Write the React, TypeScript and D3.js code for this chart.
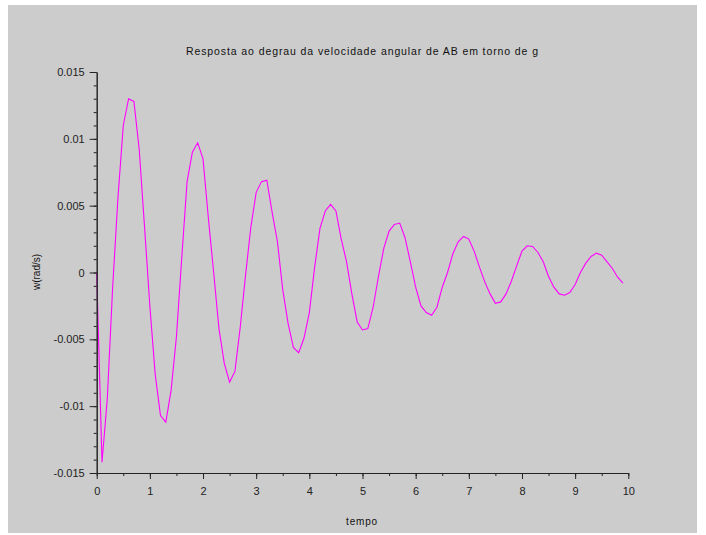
import { axisBottom, axisLeft, line, scaleLinear, select, range } from "d3";
import { useEffect, useRef } from "react";

// tempo (s)
const tempo = [
  0, 0.1, 0.2, 0.3, 0.4, 0.5, 0.6, 0.7, 0.8, 0.9,
  1.0, 1.1, 1.2, 1.3, 1.4, 1.5, 1.6, 1.7, 1.8, 1.9,
  2.0, 2.1, 2.2, 2.3, 2.4, 2.5, 2.6, 2.7, 2.8, 2.9,
  3.0, 3.1, 3.2, 3.3, 3.4, 3.5, 3.6, 3.7, 3.8, 3.9,
  4.0, 4.1, 4.2, 4.3, 4.4, 4.5, 4.6, 4.7, 4.8, 4.9,
  5.0, 5.1, 5.2, 5.3, 5.4, 5.5, 5.6, 5.7, 5.8, 5.9,
  6.0, 6.1, 6.2, 6.3, 6.4, 6.5, 6.6, 6.7, 6.8, 6.9,
  7.0, 7.1, 7.2, 7.3, 7.4, 7.5, 7.6, 7.7, 7.8, 7.9,
  8.0, 8.1, 8.2, 8.3, 8.4, 8.5, 8.6, 8.7, 8.8, 8.9,
  9.0, 9.1, 9.2, 9.3, 9.4, 9.5, 9.6, 9.7, 9.8, 9.9,
];

// w (rad/s)
const w = [
  0, -0.0142, -0.0094, -0.0011, 0.0056, 0.011, 0.013, 0.0128, 0.0092, 0.0034,
  -0.0025, -0.0076, -0.0107, -0.0112, -0.0088, -0.0048, 0.0011, 0.0068, 0.009, 0.0097,
  0.0085, 0.0041, 0.0, -0.0042, -0.0068, -0.0082, -0.0074, -0.0041, -0.0002, 0.0034,
  0.006, 0.0068, 0.0069, 0.0045, 0.0023, -0.0013, -0.0038, -0.0056, -0.006, -0.0049,
  -0.003, 0.0004, 0.0033, 0.0046, 0.0051, 0.0046, 0.0025, 0.0008, -0.0016, -0.0037,
  -0.0043, -0.0042, -0.0026, -0.0003, 0.0018, 0.0031, 0.0036, 0.0037, 0.0026, 0.0008,
  -0.0011, -0.0025, -0.003, -0.0032, -0.0026, -0.0011, 0.0, 0.0014, 0.0023, 0.0027,
  0.0025, 0.0016, 0.0004, -0.0007, -0.0016, -0.0023, -0.0022, -0.0016, -0.00065, 0.0005,
  0.0016, 0.002, 0.00195, 0.0015, 0.0008, -0.0003, -0.0011, -0.0016, -0.0017, -0.0015,
  -0.0009, 0.0, 0.0007, 0.0012, 0.00145, 0.0013, 0.0008, 0.0003, -0.00035, -0.0008,
];

const xMajor = [0, 1, 2, 3, 4, 5, 6, 7, 8, 9, 10];
const yMajor = [-0.015, -0.01, -0.005, 0, 0.005, 0.01, 0.015];

const title = "Resposta ao degrau da velocidade angular de AB em torno de g";
const xLabel = "tempo";
const yLabel = "w(rad/s)";

const font = "'Liberation Sans', Arial, sans-serif";

function AxisX({ scale, y }) {
  const ref = useRef(null);
  useEffect(() => {
    const g = select(ref.current);
    g.selectAll("*").remove();
    // minor ticks every 0.5
    g.append("g").call(
      axisBottom(scale)
        .tickValues(range(0, 10.01, 0.5))
        .tickSize(3)
        .tickSizeOuter(0)
        .tickFormat(() => "")
    );
    g.append("g").call(
      axisBottom(scale)
        .tickValues(xMajor)
        .tickSize(6)
        .tickSizeOuter(0)
        .tickPadding(8)
        .tickFormat((d) => String(d))
    );
    g.selectAll("path, line").attr("stroke", "#222");
    g.selectAll("text")
      .attr("fill", "#222")
      .style("font-family", font)
      .style("font-size", "11px");
  }, [scale]);
  return <g ref={ref} transform={`translate(0,${y})`} />;
}

function AxisY({ scale, x }) {
  const ref = useRef(null);
  useEffect(() => {
    const g = select(ref.current);
    g.selectAll("*").remove();
    // minor ticks every 0.001
    g.append("g").call(
      axisLeft(scale)
        .tickValues(range(-15, 16, 1).map((v) => v / 1000))
        .tickSize(3)
        .tickSizeOuter(0)
        .tickFormat(() => "")
    );
    g.append("g").call(
      axisLeft(scale)
        .tickValues(yMajor)
        .tickSize(7)
        .tickSizeOuter(0)
        .tickPadding(5)
        .tickFormat((d) => String(+(+d).toFixed(3)))
    );
    g.selectAll("path, line").attr("stroke", "#222");
    g.selectAll("text")
      .attr("fill", "#222")
      .style("font-family", font)
      .style("font-size", "11px");
  }, [scale]);
  return <g ref={ref} transform={`translate(${x},0)`} />;
}

export default function App() {
  const W = 706;
  const H = 535;
  const x = scaleLinear().domain([0, 10]).range([96.7, 628.3]);
  const y = scaleLinear().domain([-0.015, 0.015]).range([473, 72]);
  const path = line()
    .x((d) => x(d[0]))
    .y((d) => y(d[1]))(tempo.map((t, i) => [t, w[i]]));

  return (
    <svg
      width={W}
      height={H}
      style={{ position: "absolute", left: 0, top: 0 }}
    >
      <rect x={0} y={0} width={W} height={H} fill="#ffffff" />
      <rect x={8} y={5} width={689} height={528} fill="#cccccc" />
      <text
        x={362}
        y={55}
        textAnchor="middle"
        textLength={352}
        lengthAdjust="spacing"
        fontFamily={font}
        fontSize={10.5}
        fill="#111"
      >
        {title}
      </text>
      <path d={path} fill="none" stroke="#ff00ff" strokeWidth={1.1} />
      <AxisX scale={x} y={473} />
      <AxisY scale={y} x={96.7} />
      <text
        x={362}
        y={525}
        textAnchor="middle"
        fontFamily={font}
        fontSize={10}
        letterSpacing={0.8}
        fill="#111"
      >
        {xLabel}
      </text>
      <text
        transform={`translate(40,272) rotate(-90)`}
        textAnchor="middle"
        fontFamily={font}
        fontSize={10}
        fill="#111"
      >
        {yLabel}
      </text>
    </svg>
  );
}
